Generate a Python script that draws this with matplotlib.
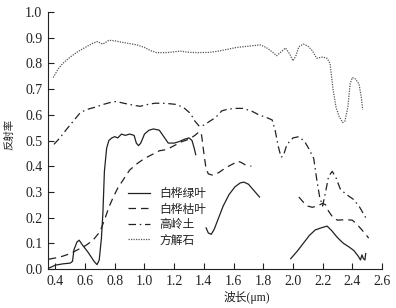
import numpy as np
import matplotlib
matplotlib.use("Agg")
import matplotlib.pyplot as plt

plt.rcParams['font.family'] = ['Liberation Serif', 'Noto Sans CJK SC']

# 白桦绿叶 (三段)
green_wl1 = [0.355, 0.40, 0.45, 0.50, 0.515, 0.525, 0.545, 0.56, 0.58, 0.62, 0.66, 0.68,
             0.695, 0.71, 0.72, 0.73, 0.745, 0.76, 0.78, 0.80, 0.82, 0.845, 0.87, 0.90,
             0.93, 0.945, 0.96, 0.975, 1.00, 1.03, 1.06, 1.10, 1.13, 1.16, 1.20, 1.23,
             1.27, 1.30, 1.32, 1.335, 1.345]
green_r1 = [0.003, 0.015, 0.020, 0.023, 0.030, 0.075, 0.105, 0.112, 0.095, 0.065, 0.030, 0.017,
            0.035, 0.12, 0.22, 0.38, 0.47, 0.50, 0.51, 0.515, 0.51, 0.525, 0.52, 0.525,
            0.52, 0.49, 0.48, 0.49, 0.525, 0.54, 0.545, 0.54, 0.515, 0.49, 0.49, 0.495,
            0.505, 0.51, 0.50, 0.47, 0.445]
green_wl2 = [1.415, 1.43, 1.45, 1.47, 1.50, 1.53, 1.57, 1.61, 1.645, 1.67, 1.70, 1.73, 1.76, 1.775]
green_r2 = [0.16, 0.14, 0.135, 0.155, 0.20, 0.245, 0.29, 0.32, 0.335, 0.338, 0.33, 0.31, 0.29, 0.28]
green_wl3 = [1.985, 2.03, 2.07, 2.11, 2.15, 2.19, 2.23, 2.26, 2.30, 2.34, 2.38, 2.41, 2.44,
             2.455, 2.465, 2.475, 2.485, 2.49]
green_r3 = [0.04, 0.07, 0.10, 0.13, 0.152, 0.16, 0.167, 0.15, 0.122, 0.10, 0.085, 0.072, 0.05,
            0.035, 0.055, 0.04, 0.035, 0.06]

# 白桦枯叶 (两段)
dry_wl1 = [0.355, 0.40, 0.45, 0.50, 0.55, 0.60, 0.65, 0.70, 0.73, 0.76, 0.79, 0.82, 0.86, 0.90,
           0.95, 1.00, 1.05, 1.10, 1.15, 1.20, 1.25, 1.30, 1.34, 1.37, 1.385, 1.40, 1.415,
           1.43, 1.46, 1.50, 1.55, 1.60, 1.625, 1.65, 1.68, 1.72]
dry_r1 = [0.038, 0.043, 0.050, 0.060, 0.075, 0.090, 0.110, 0.145, 0.19, 0.24, 0.28, 0.315, 0.35,
          0.385, 0.41, 0.43, 0.445, 0.46, 0.465, 0.48, 0.495, 0.505, 0.52, 0.535, 0.52, 0.45,
          0.39, 0.37, 0.365, 0.375, 0.395, 0.41, 0.42, 0.415, 0.405, 0.40]
dry_wl2 = [2.04, 2.07, 2.10, 2.13, 2.16, 2.20, 2.22, 2.24, 2.27, 2.30, 2.35, 2.40, 2.43, 2.46,
           2.49, 2.51]
dry_r2 = [0.28, 0.26, 0.245, 0.24, 0.245, 0.255, 0.25, 0.225, 0.20, 0.19, 0.192, 0.19, 0.175,
          0.155, 0.135, 0.12]

# 高岭土
kao_wl = [0.39, 0.43, 0.47, 0.52, 0.57, 0.62, 0.67, 0.72, 0.77, 0.81, 0.86, 0.92, 0.97, 1.02,
          1.07, 1.12, 1.17, 1.22, 1.27, 1.31, 1.34, 1.37, 1.40, 1.44, 1.48, 1.52, 1.56, 1.62,
          1.66, 1.72, 1.77, 1.82, 1.86, 1.88, 1.90, 1.92, 1.935, 1.96, 2.00, 2.04, 2.08, 2.11,
          2.14, 2.16, 2.18, 2.20, 2.22, 2.24, 2.265, 2.29, 2.32, 2.36, 2.41, 2.45, 2.49]
kao_r = [0.485, 0.51, 0.54, 0.575, 0.61, 0.622, 0.63, 0.64, 0.648, 0.652, 0.645, 0.638, 0.633,
         0.64, 0.645, 0.645, 0.643, 0.64, 0.625, 0.605, 0.575, 0.555, 0.56, 0.575, 0.59, 0.615,
         0.622, 0.625, 0.625, 0.615, 0.60, 0.59, 0.58, 0.54, 0.48, 0.435, 0.44, 0.485, 0.51,
         0.515, 0.495, 0.465, 0.43, 0.35, 0.28, 0.245, 0.30, 0.36, 0.38, 0.355, 0.31, 0.29,
         0.27, 0.24, 0.20]

# 方解石
cal_wl = [0.385, 0.42, 0.45, 0.50, 0.55, 0.60, 0.65, 0.68, 0.72, 0.76, 0.80, 0.85, 0.90, 0.95,
          1.00, 1.04, 1.08, 1.15, 1.20, 1.24, 1.30, 1.36, 1.44, 1.50, 1.56, 1.62, 1.70, 1.78,
          1.82, 1.86, 1.89, 1.92, 1.95, 1.98, 2.00, 2.02, 2.04, 2.07, 2.10, 2.13, 2.16, 2.20,
          2.23, 2.25, 2.27, 2.29, 2.31, 2.335, 2.35, 2.37, 2.385, 2.40, 2.42, 2.445, 2.46, 2.47]
cal_r = [0.745, 0.78, 0.80, 0.825, 0.845, 0.862, 0.878, 0.885, 0.875, 0.89, 0.888, 0.882, 0.877,
         0.872, 0.862, 0.85, 0.842, 0.842, 0.845, 0.848, 0.843, 0.842, 0.843, 0.848, 0.855,
         0.862, 0.867, 0.872, 0.862, 0.845, 0.83, 0.845, 0.86, 0.835, 0.81, 0.83, 0.865, 0.875,
         0.868, 0.85, 0.82, 0.825, 0.82, 0.80, 0.70, 0.63, 0.595, 0.57, 0.575, 0.63, 0.72,
         0.745, 0.74, 0.72, 0.67, 0.62]

xticks = np.arange(0.4, 2.61, 0.2)
yticks = np.arange(0.0, 1.01, 0.1)

fig = plt.figure(figsize=(3.96, 3.08), dpi=100)
ax = fig.add_axes([48/396, 1 - 269/308, 334/396, 257/308])

c = '#222222'
lw = 0.9
ax.plot(green_wl1, green_r1, '-', color=c, lw=lw, label='白桦绿叶')
ax.plot(green_wl2, green_r2, '-', color=c, lw=lw)
ax.plot(green_wl3, green_r3, '-', color=c, lw=lw)
ax.plot(dry_wl1, dry_r1, color=c, lw=lw, dashes=(6, 4), label='白桦枯叶')
ax.plot(dry_wl2, dry_r2, color=c, lw=lw, dashes=(6, 4))
ax.plot(kao_wl, kao_r, color=c, lw=lw, dashes=(6, 3, 1.2, 3), label='高岭土')
ax.plot(cal_wl, cal_r, color='#555555', lw=0.9, dashes=(1, 1), label='方解石')

ax.set_xlim(0.35, 2.6)
ax.set_ylim(0.0, 1.0)
ax.set_xticks(xticks)
ax.set_xticklabels([f'{v:.1f}' for v in xticks])
ax.set_yticks(yticks)
ax.set_yticklabels([f'{v:.1f}' for v in yticks])
ax.tick_params(direction='in', length=4, width=0.8, labelsize=10, pad=4, colors='#222222')
for s in ['top', 'right']:
    ax.spines[s].set_visible(False)
for s in ['left', 'bottom']:
    ax.spines[s].set_linewidth(0.8)
    ax.spines[s].set_color('#222222')

ax.set_xlabel('波长(μm)', fontsize=8.5, color='#222222')
ax.xaxis.set_label_coords((246.5 - 48) / 334, (269 - 291) / 257)
ax.set_ylabel('反射率', fontsize=7.5, color='#222222')
ax.yaxis.set_label_coords((14 - 48) / 334, (269 - 134.5) / 257)

leg = ax.legend(loc='upper left', bbox_to_anchor=((128 - 48) / 334, (269 - 188) / 257),
                frameon=False, fontsize=8.5, handlelength=1.9, handletextpad=0.75,
                labelspacing=0.3, borderpad=0, borderaxespad=0)
for t in leg.get_texts():
    t.set_color('#222222')

fig.savefig('out.png', dpi=100)
